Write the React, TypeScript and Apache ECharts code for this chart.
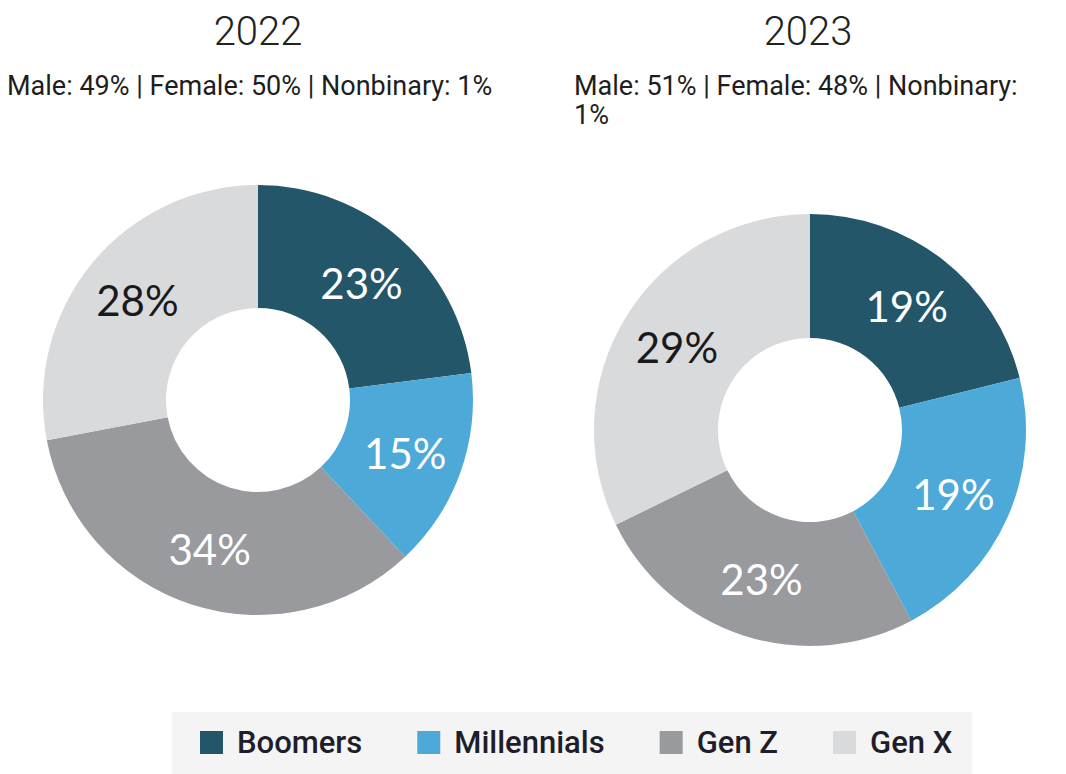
import React, { useEffect, useRef } from "react";
import * as echarts from "echarts";

// Generation mix of respondents, by survey year (percent)
const generations = ["Boomers", "Millennials", "Gen Z", "Gen X"];
const shares2022 = [23, 15, 34, 28];
const shares2023 = [19, 19, 23, 29];
const years = ["2022", "2023"];
const genderSplit = [
  "Male: 49% | Female: 50% | Nonbinary: 1%",
  "Male: 51% | Female: 48% | Nonbinary: 1%",
];

const palette = ["#24566A", "#4DA9D7", "#989A9E", "#D9DADC"];
const labelColors = ["#FFFFFF", "#FFFFFF", "#FFFFFF", "#1A1A1A"];

function slices(values: number[]) {
  return generations.map((name, i) => ({
    name,
    value: values[i],
    itemStyle: { color: palette[i] },
    label: { color: labelColors[i] },
  }));
}

function donut(values: number[], center: [number, number], outer: number) {
  return {
    type: "pie",
    center,
    radius: [92, outer],
    startAngle: 90,
    clockwise: true,
    avoidLabelOverlap: false,
    emphasis: { disabled: true },
    label: {
      show: true,
      position: "inside",
      formatter: "{c}%",
      fontFamily: "Lato",
      fontWeight: 400,
      fontSize: 42,
    },
    labelLine: { show: false },
    data: slices(values),
  };
}

function yearTitle(text: string, x: number) {
  return {
    type: "text",
    x,
    y: 31,
    style: {
      text,
      align: "center",
      verticalAlign: "middle",
      fontFamily: "Roboto",
      fontWeight: 300,
      fontSize: 40,
      fill: "#222222",
    },
  };
}

function subtitle(text: string, x: number, width: number) {
  return {
    type: "text",
    x,
    y: 71,
    style: {
      text,
      align: "left",
      verticalAlign: "top",
      width,
      overflow: "break",
      fontFamily: "Roboto",
      fontSize: 27,
      lineHeight: 29,
      fill: "#1E1E1E",
    },
  };
}

export default function App() {
  const ref = useRef<HTMLDivElement>(null);

  useEffect(() => {
    document.body.style.margin = "0";
    const chart = echarts.init(ref.current!, null, { renderer: "svg" });
    chart.setOption({
      animation: false,
      backgroundColor: "#FFFFFF",
      color: palette,
      graphic: [
        {
          type: "rect",
          z: 0,
          silent: true,
          shape: { x: 172, y: 712, width: 800, height: 62 },
          style: { fill: "#F4F4F5" },
        },
        yearTitle(years[0], 258),
        yearTitle(years[1], 808),
        subtitle(genderSplit[0], 7, 540),
        subtitle(genderSplit[1], 574, 470),
      ],
      legend: {
        left: 195,
        top: 722,
        itemWidth: 23,
        itemHeight: 23,
        itemGap: 55,
        icon: "rect",
        selectedMode: false,
        data: generations,
        textStyle: {
          fontFamily: "Roboto",
          fontWeight: 500,
          fontSize: 31,
          color: "#1E1E2A",
          padding: [0, 0, 0, 9],
        },
      },
      series: [
        donut(shares2022, [258, 400], 215),
        donut(shares2023, [810, 430], 216),
      ],
    });
    return () => chart.dispose();
  }, []);

  return <div ref={ref} style={{ width: 1066, height: 774 }} />;
}
